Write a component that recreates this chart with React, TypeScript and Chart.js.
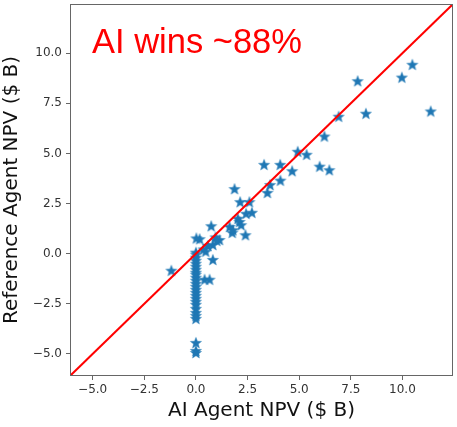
import { useEffect, useRef } from "react";
import { Chart, registerables } from "chart.js";

Chart.register(...registerables);

// ---- data ----
const aiNpv = [
  10.48, 9.97, 7.83, 8.23, 11.37, 6.91, 6.22, 4.93, 5.36, 3.3, 4.08, 4.66, 5.99, 6.46,
  3.59, 4.09, 3.46, 1.87, 2.14, 2.59, 2.43, 2.71, 2.03, 2.11, 2.19, 2.4, 1.63, 1.76, 1.79,
  1.14, 0.74, 0.95, 1.01, 0.82, 0.58, 0.47, 0.37, 0.82, 0.18, 0.02, -1.19, 0.42, 0.66,
  0, 0, 0, 0, 0, 0, 0, 0, 0, 0, 0, 0, 0, 0, 0, 0, 0, 0, 0, 0, 0, 0, 0, 0, 0, 0,
];
const refNpv = [
  9.42, 8.78, 8.6, 6.98, 7.09, 6.83, 5.84, 5.08, 4.93, 4.43, 4.43, 4.11, 4.34, 4.16,
  3.42, 3.64, 3.03, 3.22, 2.57, 2.57, 1.99, 2.04, 1.74, 1.58, 1.42, 0.92, 1.33, 1.04, 1.17,
  0.68, 1.37, 0.81, 0.64, 0.43, 0.38, 0.1, 0.21, -0.31, 0.72, 0.76, -0.85, -1.3, -1.3,
  0.05, -0.05, -0.2, -0.35, -0.5, -0.65, -0.8, -0.95, -1.05, -1.2, -1.35, -1.5, -1.65,
  -1.8, -1.95, -2.1, -2.25, -2.4, -2.55, -2.75, -2.95, -3.1, -3.25, -4.45, -4.85, -4.95,
];
const tickValues = [-5, -2.5, 0, 2.5, 5, 7.5, 10];
const axisMin = -6.05;
const axisMax = 12.4;
const diagonalEnds = [-8, 14];
const annotationText = "AI wins ~88%";
const xTitle = "AI Agent NPV ($ B)";
const yTitle = "Reference Agent NPV ($ B)";

function makeStar(): HTMLCanvasElement {
  const c = document.createElement("canvas");
  c.width = 14;
  c.height = 14;
  const g = c.getContext("2d")!;
  const cx = 7, cy = 7.3, R = 5.9, r = 2.5;
  g.beginPath();
  for (let i = 0; i < 10; i++) {
    const rad = i % 2 === 0 ? R : r;
    const a = -Math.PI / 2 + (i * Math.PI) / 5;
    const px = cx + rad * Math.cos(a);
    const py = cy + rad * Math.sin(a);
    if (i === 0) g.moveTo(px, py);
    else g.lineTo(px, py);
  }
  g.closePath();
  g.fillStyle = "#1f77b4";
  g.fill();
  g.strokeStyle = "rgba(31,119,180,0.5)";
  g.lineWidth = 0.8;
  g.stroke();
  return c;
}

const fmt = (v: number) => {
  const s = Math.abs(v).toFixed(1);
  return v < 0 ? "\u2212" + s : s;
};

export default function App() {
  const ref = useRef<HTMLCanvasElement | null>(null);
  useEffect(() => {
    if (!ref.current) return;
    const star = makeStar();
    const framePlugin = {
      id: "frameAndText",
      afterDraw(chart: any) {
        const { ctx, chartArea } = chart;
        ctx.save();
        ctx.strokeStyle = "#666";
        ctx.lineWidth = 1;
        ctx.strokeRect(
          chartArea.left - 0.5,
          chartArea.top - 0.5,
          chartArea.right - chartArea.left + 1,
          chartArea.bottom - chartArea.top + 1
        );
        ctx.fillStyle = "#ff0000";
        ctx.font = "34.5px 'Liberation Sans'";
        ctx.textBaseline = "alphabetic";
        ctx.textAlign = "left";
        ctx.fillText(annotationText, 92, 53);
        ctx.restore();
      },
    };
    const chart = new Chart(ref.current, {
      type: "scatter",
      data: {
        datasets: [
          {
            data: diagonalEnds.map((v) => ({ x: v, y: v })),
            showLine: true,
            borderColor: "#ff0000",
            borderWidth: 2,
            pointRadius: 0,
          },
          {
            data: aiNpv.map((x, i) => ({ x, y: refNpv[i] })),
            pointStyle: star as any,
            backgroundColor: "#1f77b4",
            borderColor: "#1f77b4",
          },
        ],
      },
      options: {
        animation: false,
        responsive: false,
        maintainAspectRatio: false,
        layout: { padding: { top: 3, right: 4, left: 0, bottom: 0 } },
        plugins: { legend: { display: false }, tooltip: { enabled: false } },
        scales: {
          x: {
            type: "linear",
            min: axisMin,
            max: axisMax,
            afterFit: (s: any) => {
              s.height = 52;
              s.paddingLeft = 0;
              s.paddingRight = 0;
            },
            afterBuildTicks: (s: any) => {
              s.ticks = tickValues.map((v) => ({ value: v }));
            },
            grid: { drawOnChartArea: false, drawTicks: true, tickLength: 5, color: "#666" },
            border: { display: false },
            ticks: {
              padding: 3,
              color: "#333",
              font: { family: "'DejaVu Sans'", size: 12 },
              callback: (v: any) => fmt(Number(v)),
            },
            title: {
              display: true,
              text: xTitle,
              color: "#111",
              font: { family: "'DejaVu Sans'", size: 20 },
              padding: { top: 0, bottom: 4 },
            },
          },
          y: {
            type: "linear",
            min: axisMin,
            max: axisMax,
            afterFit: (s: any) => {
              s.width = 71;
              s.paddingTop = 0;
              s.paddingBottom = 0;
            },
            afterBuildTicks: (s: any) => {
              s.ticks = tickValues.map((v) => ({ value: v }));
            },
            grid: { drawOnChartArea: false, drawTicks: true, tickLength: 5, color: "#666" },
            border: { display: false },
            ticks: {
              padding: 4,
              color: "#333",
              font: { family: "'DejaVu Sans'", size: 12 },
              callback: (v: any) => fmt(Number(v)),
            },
            title: {
              display: true,
              text: yTitle,
              color: "#111",
              font: { family: "'DejaVu Sans'", size: 20 },
              padding: { top: 0, bottom: 0 },
            },
          },
        },
      },
      plugins: [framePlugin],
    });
    return () => chart.destroy();
  }, []);
  return (
    <div style={{ position: "fixed", left: 0, top: 0, width: 457, height: 427, background: "#fff" }}>
      <canvas ref={ref} width={457} height={427} style={{ width: 457, height: 427 }} />
    </div>
  );
}
